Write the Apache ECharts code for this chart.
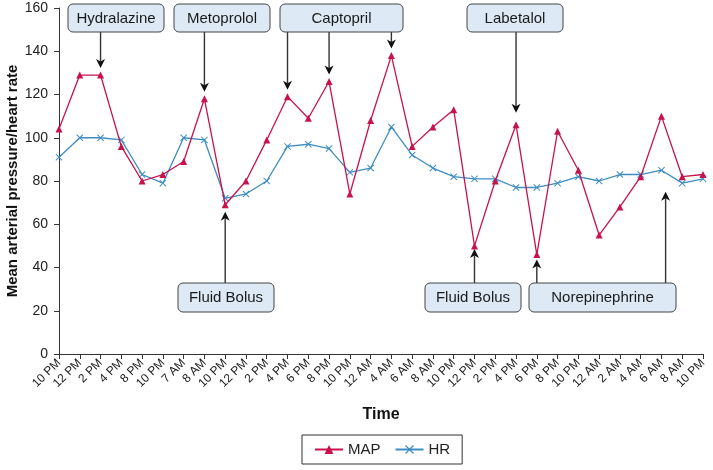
<!DOCTYPE html>
<html>
<head>
<meta charset="utf-8">
<script src="https://cdn.jsdelivr.net/npm/echarts@6/dist/echarts.min.js"></script>
<style>html,body{margin:0;padding:0;background:#fff}#c{width:713px;height:470px}</style>
</head>
<body>
<div id="c"></div>
<script>
const categories = ['10 PM','12 PM','2 PM','4 PM','8 PM','10 PM','7 AM','8 AM','10 PM','12 PM','2 PM','4 PM','6 PM','8 PM','10 PM','12 AM','4 AM','6 AM','8 AM','10 PM','12 PM','2 PM','4 PM','6 PM','8 PM','10 PM','12 AM','2 AM','4 AM','6 AM','8 AM','10 PM'];
const mapValues = [104,129,129,96,80,83,89,118,69,80,99,119,109,126,74,108,138,96,105,113,50,80,106,46,103,85,55,68,82,110,82,83];
const hrValues = [91,100,100,99,83,79,100,99,72,74,80,96,97,95,84,86,105,92,86,82,81,81,77,77,79,82,80,83,83,85,79,81];
const yTicks = [0,20,40,60,80,100,120,140,160];

// annotation boxes (layout) and the data points their arrows refer to
const annotations = [
  {text:'Hydralazine', box:[68,4,96,28], arrows:[{idx:2, dir:'down'}]},
  {text:'Metoprolol', box:[174,4,96,28], arrows:[{idx:7, dir:'down'}]},
  {text:'Captopril', box:[280,4,123,28], arrows:[{idx:11, dir:'down'},{idx:13, dir:'down'},{idx:16, dir:'down'}]},
  {text:'Labetalol', box:[467,4,96,28], arrows:[{idx:22, dir:'down', gap:12}]},
  {text:'Fluid Bolus', box:[178,283,96,29], arrows:[{idx:8, dir:'up'}]},
  {text:'Fluid Bolus', box:[425,283,96,29], arrows:[{idx:20, dir:'up', gap:3}]},
  {text:'Norepinephrine', box:[529,283,147,29], arrows:[{idx:23, dir:'up', gap:5},{idx:29, shift:0.2, tipValue:75, dir:'up'}]}
];

const FONT = 'Liberation Sans, Arial, Helvetica, sans-serif';
const MAP_COLOR = '#c8124c';
const HR_COLOR = '#3d8dc0';
const X_PATH = 'path://M1,0L5,4L9,0L10,1L6,5L10,9L9,10L5,6L1,10L0,9L4,5L0,1Z';

const chart = echarts.init(document.getElementById('c'), null, {renderer:'canvas'});
const option = {
  animation:false,
  backgroundColor:'#fff',
  textStyle:{fontFamily:FONT},
  grid:{left:59,right:10,top:8,bottom:116,containLabel:false, outerBoundsMode:'none'},
  legend:{
    left:302, top:435, padding:[7,12,7,12],
    borderColor:'#333', borderWidth:1, borderRadius:0,
    itemWidth:28, itemHeight:11, itemGap:14,
    textStyle:{fontSize:15, color:'#222', fontFamily:FONT},
    data:['MAP','HR']
  },
  xAxis:{
    type:'category', data:categories, boundaryGap:false,
    name:'Time', nameLocation:'middle', nameGap:53, nameMoveOverlap:false,
    nameTextStyle:{fontSize:16, fontWeight:'bold', color:'#111', fontFamily:FONT},
    axisLine:{lineStyle:{color:'#333', width:1}},
    axisTick:{alignWithLabel:true, length:5, lineStyle:{color:'#333'}},
    axisLabel:{rotate:45, interval:0, fontSize:12, color:'#222', margin:7, fontFamily:FONT,
               width:80, overflow:'none', hideOverlap:false},
    splitLine:{show:false}
  },
  yAxis:{
    type:'value', min:yTicks[0], max:yTicks[yTicks.length-1], interval:20,
    name:'Mean arterial pressure/heart rate', nameLocation:'middle', nameGap:39, nameMoveOverlap:false,
    nameTextStyle:{fontSize:15, fontWeight:'bold', color:'#111', fontFamily:FONT},
    axisLine:{show:true, lineStyle:{color:'#333', width:1}},
    axisTick:{show:true, length:5, lineStyle:{color:'#333'}},
    axisLabel:{fontSize:14, color:'#222', margin:11, fontFamily:FONT},
    splitLine:{show:false}
  },
  series:[
    {name:'MAP', type:'line', data:mapValues, symbol:'triangle', symbolSize:7,
     itemStyle:{color:MAP_COLOR}, lineStyle:{color:MAP_COLOR, width:1.3}, z:3},
    {name:'HR', type:'line', data:hrValues, symbol:X_PATH, symbolSize:7,
     itemStyle:{color:HR_COLOR}, lineStyle:{color:HR_COLOR, width:1.3}, z:2}
  ]
};
chart.setOption(option);

function px(i, v){ return chart.convertToPixel({xAxisIndex:0, yAxisIndex:0}, [i, v]); }

const graphics = [];
annotations.forEach(a => {
  const [bx, by, bw, bh] = a.box;
  a.arrows.forEach(ar => {
    let p = px(ar.idx, mapValues[ar.idx]);
    let x = p[0];
    if (ar.shift) {
      const p2 = px(ar.idx + 1, mapValues[ar.idx + 1]);
      x = p[0] + (p2[0] - p[0]) * ar.shift;
    }
    let tipY;
    const gap = ar.gap != null ? ar.gap : 7;
    if (ar.tipValue != null) tipY = px(ar.idx, ar.tipValue)[1];
    else tipY = ar.dir === 'down' ? p[1] - gap : p[1] + gap;
    const headL = 9, headW = 4.5, notch = 2.5;
    if (ar.dir === 'down') {
      const y0 = by + bh;
      graphics.push({type:'line', shape:{x1:x, y1:y0, x2:x, y2:tipY - headL + notch}, style:{stroke:'#333', lineWidth:1.4}, z:10});
      graphics.push({type:'polygon', shape:{points:[[x, tipY],[x - headW, tipY - headL],[x, tipY - headL + notch],[x + headW, tipY - headL]]}, style:{fill:'#111'}, z:10});
    } else {
      const y0 = by;
      graphics.push({type:'line', shape:{x1:x, y1:y0, x2:x, y2:tipY + headL - notch}, style:{stroke:'#333', lineWidth:1.4}, z:10});
      graphics.push({type:'polygon', shape:{points:[[x, tipY],[x - headW, tipY + headL],[x, tipY + headL - notch],[x + headW, tipY + headL]]}, style:{fill:'#111'}, z:10});
    }
  });
  graphics.push({type:'rect', shape:{x:bx, y:by, width:bw, height:bh, r:5},
    style:{fill:'#ddeaf6', stroke:'#444', lineWidth:1}, z:11});
  graphics.push({type:'text', style:{text:a.text, x:bx + bw/2, y:by + bh/2 + 0.5, align:'center', verticalAlign:'middle',
    fontSize:15, fontFamily:FONT, fill:'#1a1a1a'}, z:12});
});
chart.setOption({graphic:{elements:graphics}});
</script>
</body>
</html>
